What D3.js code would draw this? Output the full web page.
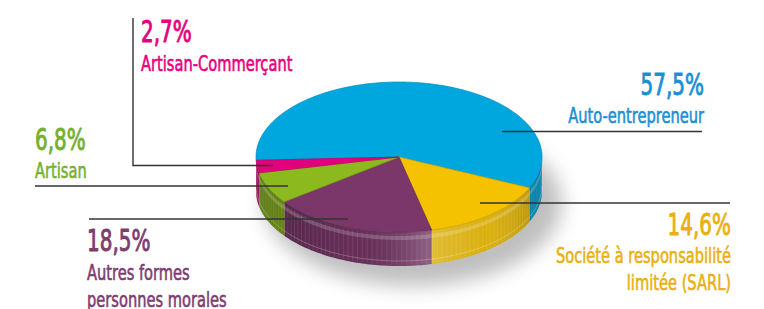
<!DOCTYPE html>
<html>
<head>
<meta charset="utf-8">
<script src="https://cdn.jsdelivr.net/npm/d3@7"></script>
<style>
  body { margin: 0; background: #fff; }
  svg { display: block; }
  text { font-family: "Liberation Sans Narrow", "DejaVu Sans Condensed", Roboto, sans-serif; }
</style>
</head>
<body>
<div id="graphique"></div>
<script>
// donnees
var categories = ["Auto-entrepreneur", "Société à responsabilité limitée (SARL)", "Autres formes personnes morales", "Artisan", "Artisan-Commerçant"];
var valeurs = [57.5, 14.6, 18.5, 6.8, 2.7];
var lignesNoms = [["Auto-entrepreneur"], ["Société à responsabilité", "limitée (SARL)"], ["Autres formes", "personnes morales"], ["Artisan"], ["Artisan-Commerçant"]];
var couleurs = ["#00a6de", "#f5c200", "#7b376a", "#8cb91e", "#e2007d"];
var couleursTexte = ["#1b8fd6", "#e9b00f", "#7d3d6f", "#76b02f", "#e6007e"];

var largeur = 764, hauteur = 309;
var cx = 399, cy = 157, rx = 143, ry = 75, epaisseur = 34;
var condense = 0.74;

// position des etiquettes (mise en page)
var etiquettes = [
    { ancre: "end", x: 704, yPct: 95, yNom: 123, trait: [[502, 131.5], [702, 131.5]] },
    { ancre: "end", x: 731, yPct: 235, yNom: 263, trait: [[480, 203], [730, 203]] },
    { ancre: "start", x: 87, yPct: 251, yNom: 280, trait: [[348, 219], [89, 219]] },
    { ancre: "start", x: 35, yPct: 150, yNom: 178, trait: [[288, 186], [35, 186]] },
    { ancre: "start", x: 141, yPct: 42, yNom: 71, trait: [[273, 165.5], [133, 165.5], [133, 18]] }
];

var svg = d3.select("#graphique").append("svg").attr("width", largeur).attr("height", hauteur);
var defs = svg.append("defs");

defs.append("filter").attr("id", "flou")
    .attr("x", "-50%").attr("y", "-50%").attr("width", "200%").attr("height", "200%")
    .append("feGaussianBlur").attr("stdDeviation", 10);

// reflet horizontal des cotes
var grad = defs.append("linearGradient").attr("id", "reflet")
    .attr("gradientUnits", "userSpaceOnUse")
    .attr("x1", cx - rx).attr("x2", cx + rx).attr("y1", 0).attr("y2", 0);
grad.append("stop").attr("offset", "0").attr("stop-color", "#000").attr("stop-opacity", 0.25);
grad.append("stop").attr("offset", "0.35").attr("stop-color", "#000").attr("stop-opacity", 0.05);
grad.append("stop").attr("offset", "0.6").attr("stop-color", "#fff").attr("stop-opacity", 0.22);
grad.append("stop").attr("offset", "0.8").attr("stop-color", "#fff").attr("stop-opacity", 0.05);
grad.append("stop").attr("offset", "1").attr("stop-color", "#000").attr("stop-opacity", 0.2);

var debut = -92.5 * Math.PI / 180;
var pie = d3.pie().sort(null).value(function(d) { return d; })
    .startAngle(debut).endAngle(debut + 2 * Math.PI);
var parts = pie(valeurs);

function point(a, dy) {
    return [cx + rx * Math.sin(a), cy - ry * Math.cos(a) + (dy || 0)];
}

function arcPts(a0, a1, dy) {
    var pts = [];
    var n = Math.max(2, Math.ceil(Math.abs(a1 - a0) / 0.02));
    for (var i = 0; i <= n; i++) {
        pts.push(point(a0 + (a1 - a0) * i / n, dy));
    }
    return pts;
}

function chemin(pts, ferme) {
    return "M" + pts.map(function(q) { return q[0].toFixed(2) + "," + q[1].toFixed(2); }).join("L") + (ferme ? "Z" : "");
}

function dessus(p) {
    return chemin([[cx, cy]].concat(arcPts(p.startAngle, p.endAngle, 0)), true);
}

function cote(a0, a1) {
    return chemin(arcPts(a0, a1, 0).concat(arcPts(a1, a0, epaisseur)), true);
}

// ombre
svg.append("ellipse")
    .attr("cx", cx + 14).attr("cy", cy + epaisseur + 12)
    .attr("rx", rx + 6).attr("ry", ry + 8)
    .attr("fill", "#000").attr("opacity", 0.25)
    .attr("filter", "url(#flou)");

// cotes visibles (devant : entre 90 et 270 degres)
var gCotes = svg.append("g");
parts.forEach(function(p, i) {
    var segments = [];
    var a0 = p.startAngle, a1 = p.endAngle;
    [[Math.PI / 2, 3 * Math.PI / 2], [-3 * Math.PI / 2, -Math.PI / 2]].forEach(function(f) {
        var s = Math.max(a0, f[0]), e = Math.min(a1, f[1]);
        if (e > s) segments.push([s, e]);
    });
    segments.forEach(function(sg) {
        var base = d3.color(couleurs[i]).darker(0.35);
        gCotes.append("path").attr("d", cote(sg[0], sg[1])).attr("fill", base);
        gCotes.append("path").attr("d", cote(sg[0], sg[1])).attr("fill", "url(#reflet)");
        // stries verticales
        for (var a = sg[0]; a < sg[1]; a += 0.035) {
            var h = point(a, 0), b = point(a, epaisseur);
            gCotes.append("line")
                .attr("x1", h[0]).attr("y1", h[1] + 2).attr("x2", b[0]).attr("y2", b[1] - 1)
                .attr("stroke", "#fff").attr("stroke-opacity", 0.12).attr("stroke-width", 0.8);
        }
        // bande claire sous le bord
        gCotes.append("path")
            .attr("d", chemin(arcPts(sg[0], sg[1], 4).concat(arcPts(sg[1], sg[0], 8)), true))
            .attr("fill", "#fff").attr("opacity", 0.18);
        // filet bas
        gCotes.append("path")
            .attr("d", chemin(arcPts(sg[0], sg[1], epaisseur - 5), false))
            .attr("fill", "none").attr("stroke", "#fff").attr("stroke-opacity", 0.3).attr("stroke-width", 0.8);
    });
});

// faces du dessus
svg.append("g").selectAll("path")
    .data(parts)
    .enter()
    .append("path")
    .attr("d", dessus)
    .attr("fill", function(d, i) { return couleurs[i]; })
    .attr("stroke", function(d, i) { return d3.color(couleurs[i]).darker(0.5); })
    .attr("stroke-width", 0.7)
    .attr("stroke-linejoin", "round");

// traits de rappel
var ligne = d3.line();
svg.append("g").selectAll("path")
    .data(etiquettes)
    .enter()
    .append("path")
    .attr("d", function(d) { return ligne(d.trait); })
    .attr("fill", "none")
    .attr("stroke", "#333")
    .attr("stroke-width", 1.4);

// textes
function texte(x, y, ancre, taille, couleur, contenu, epais) {
    svg.append("text")
        .attr("transform", "translate(" + x + "," + y + ") scale(" + condense + ",1)")
        .attr("text-anchor", ancre)
        .attr("font-size", taille)
        .attr("fill", couleur)
        .attr("stroke", couleur)
        .attr("stroke-width", epais)
        .attr("stroke-linejoin", "round")
        .text(contenu);
}

etiquettes.forEach(function(e, i) {
    var pct = valeurs[i].toFixed(1).replace(".", ",") + "%";
    texte(e.x, e.yPct, e.ancre, 30, couleursTexte[i], pct, 0.9);
    lignesNoms[i].forEach(function(l, j) {
        texte(e.x, e.yNom + j * 27, e.ancre, 22, couleursTexte[i], l, 0.6);
    });
});
</script>
</body>
</html>
